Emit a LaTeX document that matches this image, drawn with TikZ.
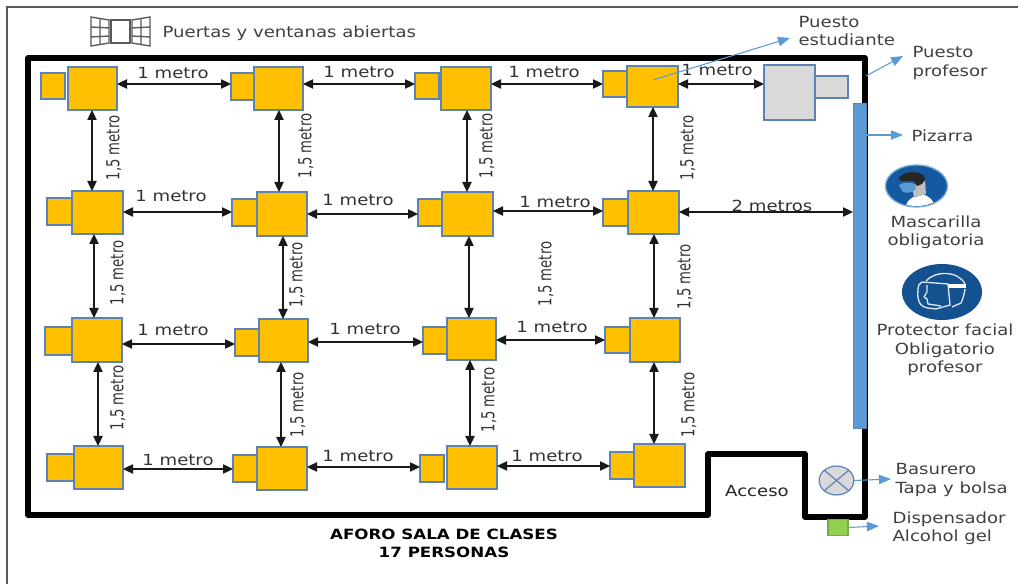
\documentclass[tikz,border=0pt]{standalone}
\usepackage{fontspec}
\usetikzlibrary{arrows.meta,shapes.geometric}
\newfontfamily\lab[FakeStretch=1.18]{DejaVu Sans}
\newfontfamily\labv[FakeStretch=0.74]{DejaVu Sans}
\definecolor{desk}{HTML}{FFC000}
\definecolor{edgeb}{HTML}{5B83B5}
\definecolor{leader}{HTML}{5B9BD5}
\definecolor{txt}{HTML}{404040}
\definecolor{iconblue}{HTML}{155AA0}
\definecolor{gelfill}{HTML}{92D050}
\definecolor{geledge}{HTML}{70AD47}
\tikzset{
  deskbox/.style={draw=edgeb,fill=desk,line width=0.8pt,inner sep=0pt,outer sep=0pt},
  profbox/.style={draw=edgeb,fill=black!15,line width=0.8pt,inner sep=0pt,outer sep=0pt},
  boardbox/.style={draw=edgeb,fill=leader,line width=0.6pt,inner sep=0pt,outer sep=0pt},
  dimline/.style={{Triangle[length=7.5pt,width=7pt]}-{Triangle[length=7.5pt,width=7pt]},line width=0.9pt,black!90},
  lead/.style={-{Triangle[length=9pt,width=7pt]},line width=0.8pt,leader},
  wall/.style={draw=black,line width=3.8pt,line join=round},
  txtn/.style={inner sep=1pt,text=txt,font=\lab\fontsize{11.5}{13.7}\selectfont},
  hlab/.style={inner sep=0pt,text=black!80,font=\lab\fontsize{11.5}{13}\selectfont},
  vlab/.style={inner sep=0pt,rotate=90,text=black!80,font=\labv\fontsize{13.4}{14}\selectfont},
  ico/.style={line width=1pt,draw=black!65},
}
\newcommand{\bx}[6]{\node[#1,minimum width={(#5-#3)*0.75pt},minimum height={(#6-#4)*0.75pt}] (#2) at ({(#3+#5)/2},{(#4+#6)/2}) {};}
\newcommand{\hd}[3]{\draw[dimline] (#1.east |- 0,#3) -- (#2.west |- 0,#3);}
\newcommand{\vd}[3]{\draw[dimline] (#1.south -| #3,0) -- (#2.north -| #3,0);}
\newcommand{\hl}[3]{\node[hlab] at (#1,#2) {#3};}
\newcommand{\vl}[2]{\node[vlab] at (#1,#2) {1,5 metro};}
\begin{document}
\begin{tikzpicture}[x=0.75pt,y=-0.75pt]
\useasboundingbox (0,0) rectangle (1018,584);
\fill[white] (0,0) rectangle (1018,584);
\draw[black!65,line width=0.8pt] (7,584) -- (7,7) -- (1018,7);
% walls
\draw[wall] (28,58) -- (865,58) -- (865,517) -- (805,517) -- (805,454) -- (708,454) -- (708,515) -- (28,515) -- cycle;
% board
\bx{boardbox}{board}{853}{103}{866}{428}
% desks row 1
\bx{deskbox}{s11}{41}{73}{65}{99}   \bx{deskbox}{l11}{68}{67}{117}{110}
\bx{deskbox}{s12}{231}{73}{254}{100} \bx{deskbox}{l12}{254}{67}{303}{110}
\bx{deskbox}{s13}{415}{73}{439}{99} \bx{deskbox}{l13}{441}{67}{491}{110}
\bx{deskbox}{s14}{603}{71}{627}{97} \bx{deskbox}{l14}{627}{66}{678}{107}
\bx{profbox}{pl}{764}{65}{815}{120} \bx{profbox}{ps}{815}{76}{848}{98}
% row 2
\bx{deskbox}{s21}{47}{198}{72}{225}  \bx{deskbox}{l21}{72}{191}{123}{234}
\bx{deskbox}{s22}{232}{199}{257}{226} \bx{deskbox}{l22}{257}{192}{307}{236}
\bx{deskbox}{s23}{418}{199}{442}{226} \bx{deskbox}{l23}{442}{192}{493}{236}
\bx{deskbox}{s24}{603}{199}{628}{226} \bx{deskbox}{l24}{628}{191}{679}{234}
% row 3
\bx{deskbox}{s31}{45}{327}{72}{355}  \bx{deskbox}{l31}{72}{318}{122}{362}
\bx{deskbox}{s32}{235}{329}{259}{356} \bx{deskbox}{l32}{259}{319}{308}{362}
\bx{deskbox}{s33}{423}{327}{447}{354} \bx{deskbox}{l33}{447}{318}{496}{360}
\bx{deskbox}{s34}{605}{327}{630}{353} \bx{deskbox}{l34}{630}{318}{680}{362}
% row 4
\bx{deskbox}{s41}{47}{454}{74}{481}  \bx{deskbox}{l41}{74}{446}{123}{489}
\bx{deskbox}{s42}{233}{455}{257}{482} \bx{deskbox}{l42}{257}{447}{307}{490}
\bx{deskbox}{s43}{420}{455}{444}{482} \bx{deskbox}{l43}{447}{446}{497}{489}
\bx{deskbox}{s44}{610}{452}{634}{479} \bx{deskbox}{l44}{634}{444}{685}{487}
% horizontal dimensions
\hd{l11}{s12}{84} \hd{l12}{s13}{84} \hd{l13}{s14}{84} \hd{l14}{pl}{84}
\hd{l21}{s22}{212} \hd{l22}{s23}{214} \hd{l23}{s24}{211} \hd{l24}{board}{212}
\hd{l31}{s32}{344} \hd{l32}{s33}{342} \hd{l33}{s34}{340}
\hd{l41}{s42}{469} \hd{l42}{s43}{467} \hd{l43}{s44}{466}
% vertical dimensions
\vd{l11}{l21}{92} \vd{l21}{l31}{94} \vd{l31}{l41}{98}
\vd{l12}{l22}{279} \vd{l22}{l32}{283} \vd{l32}{l42}{281}
\vd{l13}{l23}{467} \vd{l23}{l33}{469} \vd{l33}{l43}{470}
\vd{l14}{l24}{653} \vd{l24}{l34}{654} \vd{l34}{l44}{654}
% horizontal labels
\hl{173}{73}{1 metro} \hl{359}{72}{1 metro} \hl{544}{72}{1 metro} \hl{717}{70}{1 metro}
\hl{171}{196}{1 metro} \hl{358}{200}{1 metro} \hl{555}{202}{1 metro} \hl{772}{206}{2 metros}
\hl{173}{330}{1 metro} \hl{365}{329}{1 metro} \hl{552}{327}{1 metro}
\hl{178}{460}{1 metro} \hl{358}{456}{1 metro} \hl{547}{456}{1 metro}
% vertical labels
\vl{114}{148} \vl{306}{146} \vl{487}{146} \vl{688}{148}
\vl{118}{273} \vl{297}{275} \vl{546}{274} \vl{685}{277}
\vl{118}{398} \vl{298}{405} \vl{489}{400} \vl{689}{405}
% trash and dispenser
\node[ellipse,draw=edgeb,fill=black!15,line width=0.9pt,inner sep=0pt,outer sep=0pt,minimum width=26pt,minimum height=21.7pt] (trash) at (836.5,480.5) {};
\draw[edgeb,line width=0.9pt] (trash.north west) -- (trash.south east) (trash.north east) -- (trash.south west);
\node[draw=geledge,fill=gelfill,line width=1.4pt,inner sep=0pt,outer sep=0pt,minimum width=15.5pt,minimum height=12pt] (gel) at (838,527.5) {};
% texts
\node[txtn,anchor=west] (ptxt) at (161,33) {Puertas y ventanas abiertas};
\node[txtn,anchor=west,align=left] (est) at (797,31) {Puesto\\estudiante};
\node[txtn,anchor=west,align=left] (prof) at (911,63) {Puesto\\profesor};
\node[txtn,anchor=west] (piz) at (910,136) {Pizarra};
\node[txtn,align=center] (masc) at (936,232) {Mascarilla\\obligatoria};
\node[txtn,align=center] (prot) at (945,350) {Protector facial\\Obligatorio\\profesor};
\node[txtn,anchor=west,align=left] (bas) at (894,480) {Basurero\\Tapa y bolsa};
\node[txtn,anchor=west,align=left] (disp) at (891,528) {Dispensador\\Alcohol gel};
\node[txtn,text=black!85] (acc) at (757,491) {Acceso};
\node[txtn,text=black,align=center,font=\lab\bfseries\fontsize{10.6}{13.5}\selectfont] (aforo) at (444,543) {AFORO SALA DE CLASES\\17 PERSONAS};
% leaders
\coordinate (c1) at (790,38); \coordinate (c2) at (903,56); \coordinate (c3) at (903,135);
\coordinate (c4) at (891,479); \coordinate (c5) at (879,526);
\draw[lead] (653,80) -- (c1);
\draw[lead] (866,76) -- (c2);
\draw[lead] (board.east |- c3) -- (c3);
\draw[lead] (trash.east) -- (c4);
\draw[lead] (gel.east) -- (c5);
% window icon
\begin{scope}[ico]
\draw[fill=white] (111,20) rectangle (130,43);
\draw (91,17) -- (109,20) -- (109,43) -- (91,46) -- cycle;
\draw (132,20) -- (150,17) -- (150,46) -- (132,43) -- cycle;
\draw (100,18.5) -- (100,44.5) (91,27) -- (109,28) (91,37) -- (109,36);
\draw (141,18.5) -- (141,44.5) (132,28) -- (150,27) (132,36) -- (150,37);
\end{scope}
% mask icon
\draw[fill=iconblue,draw=leader!80,line width=1pt] (916.5,186) ellipse [x radius=31,y radius=21];
\begin{scope}
\clip (916.5,186) ellipse [x radius=30,y radius=20];
\fill[white] (906,206) .. controls (908,197) and (916,196) .. (922,194) .. controls (928,196) and (934,199) .. (935,208) -- cycle;
\fill[black!25] (912,186) -- (925,181) -- (926,194) -- (914,198) -- cycle;
\fill[black!85] (899,178) .. controls (903,171) and (918,170) .. (924,176) .. controls (926,179) and (924,182) .. (922,184) -- (917,186) -- (914,181) -- (901,181) -- cycle;
\fill[leader] (899,185) .. controls (903,182) and (910,182) .. (915,184) -- (916,189) .. controls (912,193) and (905,194) .. (902,191) -- cycle;
\end{scope}
% face shield icon
\fill[iconblue!90!black] (942,292) ellipse [x radius=40,y radius=28];
\begin{scope}[draw=white!85!iconblue,line width=1pt,line join=round]
\draw (926,281) .. controls (934,271) and (958,270) .. (965,284);
\draw (965,289) .. controls (964,296) and (962,301) .. (961,303) -- (952,307);
\draw (922,282) -- (948,284) -- (950,305) -- (936,309) -- (928,308) .. controls (919,307) and (917,299) .. (918,290) .. controls (918,286) and (919,283) .. (922,282);
\draw (927,285) -- (927,292) -- (924,297) -- (927,299) -- (928,304) -- (941,306);
\fill[white] (948,284.5) rectangle (966,288);
\end{scope}
\end{tikzpicture}
\end{document}
